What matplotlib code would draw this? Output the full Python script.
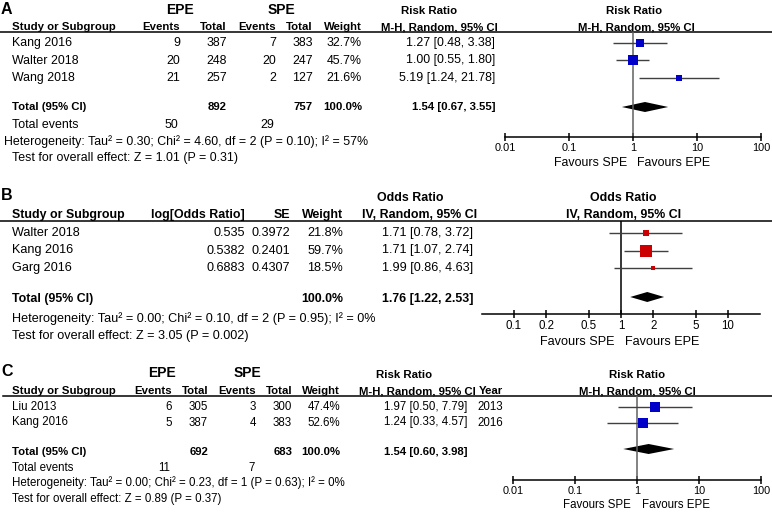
import numpy as np
import matplotlib
matplotlib.use('Agg')
import matplotlib.pyplot as plt

plt.rcParams['font.family'] = ['Liberation Sans', 'DejaVu Sans']

W, H = 772, 519

# ---- panel A data
a_studies = ['Kang 2016', 'Walter 2018', 'Wang 2018']
a_epe_events = [9, 20, 21]
a_epe_total = [387, 248, 257]
a_spe_events = [7, 20, 2]
a_spe_total = [383, 247, 127]
a_weight = [32.7, 45.7, 21.6]
a_est = [1.27, 1.00, 5.19]
a_lo = [0.48, 0.55, 1.24]
a_hi = [3.38, 1.80, 21.78]
a_totals = [892, 757]
a_total_events = [50, 29]
a_pooled = [1.54, 0.67, 3.55]
a_het = 'Heterogeneity: Tau² = 0.30; Chi² = 4.60, df = 2 (P = 0.10); I² = 57%'
a_test = 'Test for overall effect: Z = 1.01 (P = 0.31)'
a_ticks = [0.01, 0.1, 1, 10, 100]

# ---- panel B data
b_studies = ['Walter 2018', 'Kang 2016', 'Garg 2016']
b_logor = ['0.535', '0.5382', '0.6883']
b_se = ['0.3972', '0.2401', '0.4307']
b_weight = [21.8, 59.7, 18.5]
b_est = [1.71, 1.71, 1.99]
b_lo = [0.78, 1.07, 0.86]
b_hi = [3.72, 2.74, 4.63]
b_pooled = [1.76, 1.22, 2.53]
b_het = 'Heterogeneity: Tau² = 0.00; Chi² = 0.10, df = 2 (P = 0.95); I² = 0%'
b_test = 'Test for overall effect: Z = 3.05 (P = 0.002)'
b_ticks = [0.1, 0.2, 0.5, 1, 2, 5, 10]

# ---- panel C data
c_studies = ['Liu 2013', 'Kang 2016']
c_epe_events = [6, 5]
c_epe_total = [305, 387]
c_spe_events = [3, 4]
c_spe_total = [300, 383]
c_weight = [47.4, 52.6]
c_est = [1.97, 1.24]
c_lo = [0.50, 0.33]
c_hi = [7.79, 4.57]
c_year = [2013, 2016]
c_totals = [692, 683]
c_total_events = [11, 7]
c_pooled = [1.54, 0.60, 3.98]
c_het = 'Heterogeneity: Tau² = 0.00; Chi² = 0.23, df = 1 (P = 0.63); I² = 0%'
c_test = 'Test for overall effect: Z = 0.89 (P = 0.37)'
c_ticks = [0.01, 0.1, 1, 10, 100]

BLUE = '#0000c8'
RED = '#cc0000'

fig = plt.figure(figsize=(W / 100, H / 100), dpi=100)
bg = fig.add_axes([0, 0, 1, 1])
bg.set_xlim(0, W)
bg.set_ylim(H, 0)
bg.axis('off')


def txt(x, y, s, ha='left', bold=False, fs=7.6):
    bg.text(x, y, s, ha=ha, va='center', fontsize=fs,
            fontweight='bold' if bold else 'normal')


def ci_str(v):
    return '%.2f [%.2f, %.2f]' % tuple(v)


def forest(one_px, per_dec, xlim, top_y, axis_y, est, lo, hi, wts, rows,
           pooled, pooled_y, ticks, color, vcolor, fs):
    x0 = one_px + np.log10(xlim[0]) * per_dec
    x1 = one_px + np.log10(xlim[1]) * per_dec
    ax = fig.add_axes([x0 / W, 1 - axis_y / H, (x1 - x0) / W, (axis_y - top_y) / H])
    ax.set_xscale('log')
    ax.set_xlim(xlim)
    ax.set_ylim(axis_y, top_y)
    ax.patch.set_alpha(0)
    for s in ['top', 'left', 'right']:
        ax.spines[s].set_visible(False)
    ax.spines['bottom'].set_linewidth(1.1)
    ax.set_yticks([])
    ax.set_xticks(ticks)
    ax.set_xticklabels(['%g' % t for t in ticks])
    ax.minorticks_off()
    ax.tick_params(axis='x', direction='inout', length=6, width=1.1, labelsize=fs, pad=1)
    ax.axvline(1, color=vcolor, lw=1.1)
    ax.hlines(rows, lo, hi, color='#404040', lw=1)
    for e, r, w in zip(est, rows, wts):
        side = 0.19 * w + 1
        ax.plot(e, r, 's', ms=side * 0.72, color=color, mec=color, mew=0)
    p, l, h = pooled
    ax.fill([l, p, h, p], [pooled_y, pooled_y - 5, pooled_y, pooled_y + 5],
            color='black', lw=0, clip_on=False)
    return ax


# ================= panel A
fs, bfs, tfs = 8.9, 8.2, 7.9
txt(1, 9, 'A', bold=True, fs=11.5)
txt(180, 10, 'EPE', ha='center', bold=True, fs=10)
txt(281, 10, 'SPE', ha='center', bold=True, fs=10)
txt(429, 11, 'Risk Ratio', ha='center', bold=True, fs=bfs)
txt(634, 11, 'Risk Ratio', ha='center', bold=True, fs=bfs)
hy = 27
txt(12, hy, 'Study or Subgroup', bold=True, fs=bfs)
for x, s in zip([180, 227, 276, 313, 362], ['Events', 'Total', 'Events', 'Total', 'Weight']):
    txt(x, hy, s, ha='right', bold=True, fs=bfs)
txt(498, hy, 'M-H, Random, 95% CI', ha='right', bold=True, fs=bfs)
txt(636, hy, 'M-H, Random, 95% CI', ha='center', bold=True, fs=bfs)
bg.plot([0, W], [32, 32], color='black', lw=1.1)
a_rows = [43, 60.5, 78]
for i, r in enumerate(a_rows):
    txt(12, r, a_studies[i], fs=fs)
    txt(180, r, str(a_epe_events[i]), ha='right', fs=fs)
    txt(227, r, str(a_epe_total[i]), ha='right', fs=fs)
    txt(276, r, str(a_spe_events[i]), ha='right', fs=fs)
    txt(313, r, str(a_spe_total[i]), ha='right', fs=fs)
    txt(362, r, '%.1f%%' % a_weight[i], ha='right', fs=fs)
    txt(495, r, ci_str([a_est[i], a_lo[i], a_hi[i]]), ha='right', fs=fs)
ty = 107
txt(12, ty, 'Total (95% CI)', bold=True, fs=bfs)
txt(227, ty, str(a_totals[0]), ha='right', bold=True, fs=bfs)
txt(313, ty, str(a_totals[1]), ha='right', bold=True, fs=bfs)
txt(362, ty, '100.0%', ha='right', bold=True, fs=bfs)
txt(495, ty, ci_str(a_pooled), ha='right', bold=True, fs=bfs)
txt(12, 124.5, 'Total events', fs=fs)
txt(178, 124.5, str(a_total_events[0]), ha='right', fs=fs)
txt(274, 124.5, str(a_total_events[1]), ha='right', fs=fs)
txt(4, 141.5, a_het, fs=fs)
txt(12, 158, a_test, fs=fs)
forest(633, 64, (0.01, 100), 32, 137, a_est, a_lo, a_hi, a_weight, a_rows,
       a_pooled, ty, a_ticks, BLUE, '#606060', tfs)
txt(627, 163, 'Favours SPE', ha='right', fs=fs)
txt(637, 163, 'Favours EPE', fs=fs)

# ================= panel B
fs, bfs, tfs = 9.1, 8.9, 8.3
txt(1, 196, 'B', bold=True, fs=11.5)
txt(410, 198, 'Odds Ratio', ha='center', bold=True, fs=bfs)
txt(623, 198, 'Odds Ratio', ha='center', bold=True, fs=bfs)
hy = 215
txt(12, hy, 'Study or Subgroup', bold=True, fs=bfs)
for x, s in zip([245, 290, 343], ['log[Odds Ratio]', 'SE', 'Weight']):
    txt(x, hy, s, ha='right', bold=True, fs=bfs)
txt(477, hy, 'IV, Random, 95% CI', ha='right', bold=True, fs=bfs)
txt(624, hy, 'IV, Random, 95% CI', ha='center', bold=True, fs=bfs)
bg.plot([0, W], [221, 221], color='black', lw=1.1)
b_rows = [233, 250.5, 268]
for i, r in enumerate(b_rows):
    txt(12, r, b_studies[i], fs=fs)
    txt(245, r, b_logor[i], ha='right', fs=fs)
    txt(290, r, b_se[i], ha='right', fs=fs)
    txt(343, r, '%.1f%%' % b_weight[i], ha='right', fs=fs)
    txt(473, r, ci_str([b_est[i], b_lo[i], b_hi[i]]), ha='right', fs=fs)
ty = 299
txt(12, ty, 'Total (95% CI)', bold=True, fs=bfs)
txt(343, ty, '100.0%', ha='right', bold=True, fs=bfs)
txt(473, ty, ci_str(b_pooled), ha='right', bold=True, fs=bfs)
txt(12, 319, b_het, fs=fs)
txt(12, 336, b_test, fs=fs)
forest(621, 107, (0.05, 20), 221, 314, b_est, b_lo, b_hi, b_weight, b_rows,
       b_pooled, 297, b_ticks, RED, 'black', tfs)
txt(615, 342, 'Favours SPE', ha='right', fs=fs)
txt(625, 342, 'Favours EPE', fs=fs)

# ================= panel C
fs, bfs, tfs = 8.3, 8.2, 7.8
txt(1, 372, 'C', bold=True, fs=11.5)
txt(162, 373, 'EPE', ha='center', bold=True, fs=10)
txt(247, 373, 'SPE', ha='center', bold=True, fs=10)
txt(404, 375, 'Risk Ratio', ha='center', bold=True, fs=bfs)
txt(637, 375, 'Risk Ratio', ha='center', bold=True, fs=bfs)
hy = 391
txt(12, hy, 'Study or Subgroup', bold=True, fs=bfs)
for x, s in zip([172, 208, 256, 292, 340], ['Events', 'Total', 'Events', 'Total', 'Weight']):
    txt(x, hy, s, ha='right', bold=True, fs=bfs)
txt(476, hy, 'M-H, Random, 95% CI', ha='right', bold=True, fs=bfs)
txt(503, hy, 'Year', ha='right', bold=True, fs=bfs)
txt(637, hy, 'M-H, Random, 95% CI', ha='center', bold=True, fs=bfs)
bg.plot([3, W], [396, 396], color='black', lw=1.1)
c_rows = [407, 422.5]
for i, r in enumerate(c_rows):
    txt(12, r, c_studies[i], fs=fs)
    txt(172, r, str(c_epe_events[i]), ha='right', fs=fs)
    txt(208, r, str(c_epe_total[i]), ha='right', fs=fs)
    txt(256, r, str(c_spe_events[i]), ha='right', fs=fs)
    txt(292, r, str(c_spe_total[i]), ha='right', fs=fs)
    txt(340, r, '%.1f%%' % c_weight[i], ha='right', fs=fs)
    txt(467, r, ci_str([c_est[i], c_lo[i], c_hi[i]]), ha='right', fs=fs)
    txt(503, r, str(c_year[i]), ha='right', fs=fs)
ty = 452
txt(12, ty, 'Total (95% CI)', bold=True, fs=bfs)
txt(208, ty, str(c_totals[0]), ha='right', bold=True, fs=bfs)
txt(292, ty, str(c_totals[1]), ha='right', bold=True, fs=bfs)
txt(340, ty, '100.0%', ha='right', bold=True, fs=bfs)
txt(467, ty, ci_str(c_pooled), ha='right', bold=True, fs=bfs)
txt(12, 468, 'Total events', fs=fs)
txt(170, 468, str(c_total_events[0]), ha='right', fs=fs)
txt(255, 468, str(c_total_events[1]), ha='right', fs=fs)
txt(12, 483, c_het, fs=fs)
txt(12, 499, c_test, fs=fs)
forest(637, 62, (0.01, 100), 396, 480, c_est, c_lo, c_hi, c_weight, c_rows,
       c_pooled, 449, c_ticks, BLUE, '#606060', tfs)
txt(631, 505, 'Favours SPE', ha='right', fs=fs)
txt(642, 505, 'Favours EPE', fs=fs)

fig.savefig('out.png', dpi=100)
